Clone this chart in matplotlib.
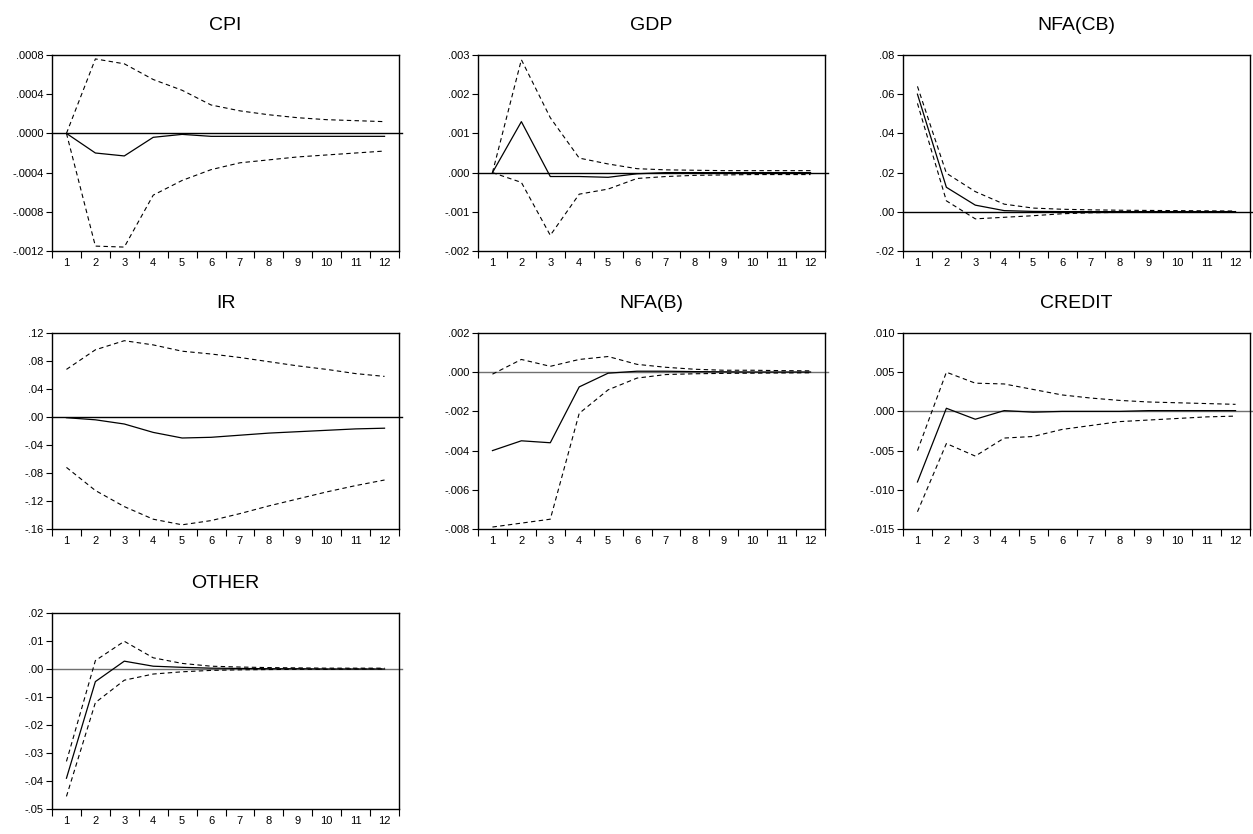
import matplotlib
matplotlib.use("Agg")
import matplotlib.pyplot as plt
from matplotlib.ticker import FixedLocator, NullFormatter

plt.rcParams["font.family"] = ["Liberation Sans", "DejaVu Sans"]

periods = list(range(1, 13))

titles = ["CPI", "GDP", "NFA(CB)", "IR", "NFA(B)", "CREDIT", "OTHER"]

cpi_mean = [0.0, -0.0002, -0.00023, -0.00004, -0.00001, -0.00003, -0.00003, -0.00003, -0.00003, -0.00003, -0.00003, -0.00003]
cpi_upper = [0.0, 0.00076, 0.00071, 0.00055, 0.00044, 0.00029, 0.00023, 0.00019, 0.00016, 0.00014, 0.00013, 0.00012]
cpi_lower = [0.0, -0.00115, -0.00116, -0.00063, -0.00048, -0.00037, -0.0003, -0.00027, -0.00024, -0.00022, -0.0002, -0.00018]

gdp_mean = [0.0, 0.0013, -0.0001, -0.0001, -0.00012, -0.00003, 0.0, 0.0, 0.0, 0.0, 0.0, 0.0]
gdp_upper = [0.0, 0.00288, 0.0014, 0.00037, 0.00022, 0.0001, 0.00007, 0.00006, 0.00005, 0.00005, 0.00005, 0.00005]
gdp_lower = [0.0, -0.00025, -0.0016, -0.00055, -0.00042, -0.00015, -0.0001, -0.00007, -0.00006, -0.00005, -0.00005, -0.00005]

nfacb_mean = [0.06, 0.0125, 0.0034, 0.0006, 0.0002, 0.0001, 0.0001, 0.0001, 0.0001, 0.0001, 0.0001, 0.0001]
nfacb_upper = [0.064, 0.0197, 0.0103, 0.0039, 0.0019, 0.0013, 0.001, 0.0008, 0.0007, 0.0006, 0.0005, 0.0004]
nfacb_lower = [0.0553, 0.0056, -0.0036, -0.0028, -0.002, -0.001, -0.0005, -0.0003, -0.0002, -0.0001, 0.0, 0.0]

ir_mean = [-0.001, -0.004, -0.01, -0.022, -0.03, -0.029, -0.026, -0.023, -0.021, -0.019, -0.017, -0.016]
ir_upper = [0.068, 0.096, 0.109, 0.103, 0.094, 0.09, 0.085, 0.079, 0.073, 0.068, 0.062, 0.058]
ir_lower = [-0.072, -0.105, -0.128, -0.146, -0.154, -0.148, -0.138, -0.127, -0.117, -0.107, -0.098, -0.09]

nfab_mean = [-0.004, -0.0035, -0.0036, -0.00075, -0.00005, 0.00005, 0.00005, 0.00003, 0.00002, 0.00001, 0.00001, 0.00001]
nfab_upper = [-0.0001, 0.00065, 0.0003, 0.00065, 0.0008, 0.0004, 0.00025, 0.00015, 0.0001, 0.0001, 0.00008, 0.00007]
nfab_lower = [-0.0079, -0.0077, -0.0075, -0.0021, -0.0009, -0.0003, -0.00012, -0.00008, -0.00006, -0.00005, -0.00004, -0.00003]

credit_mean = [-0.009, 0.0004, -0.001, 0.0001, -0.0001, 0.0, 0.0, 0.0, 0.0001, 0.0001, 0.0001, 0.0001]
credit_upper = [-0.005, 0.005, 0.0036, 0.0035, 0.0028, 0.0021, 0.0017, 0.0014, 0.0012, 0.0011, 0.001, 0.0009]
credit_lower = [-0.0128, -0.0041, -0.0057, -0.0034, -0.0032, -0.0023, -0.0018, -0.0013, -0.0011, -0.0009, -0.0007, -0.0006]

other_mean = [-0.039, -0.0045, 0.0028, 0.001, 0.0006, 0.0003, 0.0002, 0.0001, 0.0001, 0.0, 0.0, 0.0]
other_upper = [-0.033, 0.003, 0.0099, 0.004, 0.002, 0.001, 0.0007, 0.0005, 0.0004, 0.0003, 0.0003, 0.0003]
other_lower = [-0.0455, -0.012, -0.004, -0.0018, -0.001, -0.0005, -0.0003, -0.0002, -0.0001, -0.0001, 0.0, 0.0]

means = [cpi_mean, gdp_mean, nfacb_mean, ir_mean, nfab_mean, credit_mean, other_mean]
uppers = [cpi_upper, gdp_upper, nfacb_upper, ir_upper, nfab_upper, credit_upper, other_upper]
lowers = [cpi_lower, gdp_lower, nfacb_lower, ir_lower, nfab_lower, credit_lower, other_lower]

ytick_values = [
    [-0.0012, -0.0008, -0.0004, 0.0, 0.0004, 0.0008],
    [-0.002, -0.001, 0.0, 0.001, 0.002, 0.003],
    [-0.02, 0.0, 0.02, 0.04, 0.06, 0.08],
    [-0.16, -0.12, -0.08, -0.04, 0.0, 0.04, 0.08, 0.12],
    [-0.008, -0.006, -0.004, -0.002, 0.0, 0.002],
    [-0.015, -0.010, -0.005, 0.0, 0.005, 0.010],
    [-0.05, -0.04, -0.03, -0.02, -0.01, 0.0, 0.01, 0.02],
]
ytick_labels = [
    ["-.0012", "-.0008", "-.0004", ".0000", ".0004", ".0008"],
    ["-.002", "-.001", ".000", ".001", ".002", ".003"],
    ["-.02", ".00", ".02", ".04", ".06", ".08"],
    ["-.16", "-.12", "-.08", "-.04", ".00", ".04", ".08", ".12"],
    ["-.008", "-.006", "-.004", "-.002", ".000", ".002"],
    ["-.015", "-.010", "-.005", ".000", ".005", ".010"],
    ["-.05", "-.04", "-.03", "-.02", "-.01", ".00", ".01", ".02"],
]
zero_colors = ["black", "black", "black", "black", "#707070", "#707070", "#707070"]

W, H = 1253, 834
fig = plt.figure(figsize=(W / 100, H / 100), dpi=100, facecolor="white")

col_left = [52, 478, 903]
row_top = [55, 333, 613]
ax_w, ax_h = 347, 196

for i, title in enumerate(titles):
    r, c = divmod(i, 3)
    left = col_left[c] / W
    bottom = 1 - (row_top[r] + ax_h) / H
    ax = fig.add_axes([left, bottom, ax_w / W, ax_h / H])

    ax.axhline(0, color=zero_colors[i], linewidth=1.0, zorder=1, clip_on=False,
               xmin=0, xmax=1.01)
    ax.plot(periods, means[i], color="black", linewidth=0.9, zorder=3)
    ax.plot(periods, uppers[i], color="black", linewidth=0.8, linestyle=(0, (4, 3)), zorder=2)
    ax.plot(periods, lowers[i], color="black", linewidth=0.8, linestyle=(0, (4, 3)), zorder=2)

    ax.set_xlim(0.5, 12.5)
    ax.set_ylim(ytick_values[i][0], ytick_values[i][-1])

    # tick marks at bin edges, labels at period centres
    ax.xaxis.set_major_locator(FixedLocator([p - 0.5 for p in periods] + [12.5]))
    ax.xaxis.set_major_formatter(NullFormatter())
    ax.set_xticks(periods, minor=True)
    ax.set_xticklabels([str(p) for p in periods], minor=True, fontsize=8)
    ax.tick_params(axis="x", which="major", direction="out", length=5, width=0.8)
    ax.tick_params(axis="x", which="minor", length=0, pad=5)

    ax.set_yticks(ytick_values[i])
    ax.set_yticklabels(ytick_labels[i], fontsize=8)
    ax.tick_params(axis="y", direction="out", length=4, width=0.8, pad=2)

    for spine in ax.spines.values():
        spine.set_linewidth(1.0)
        spine.set_color("black")

    ax.set_title(title, fontsize=14, pad=18)

fig.savefig("out.png", dpi=100, facecolor="white")
